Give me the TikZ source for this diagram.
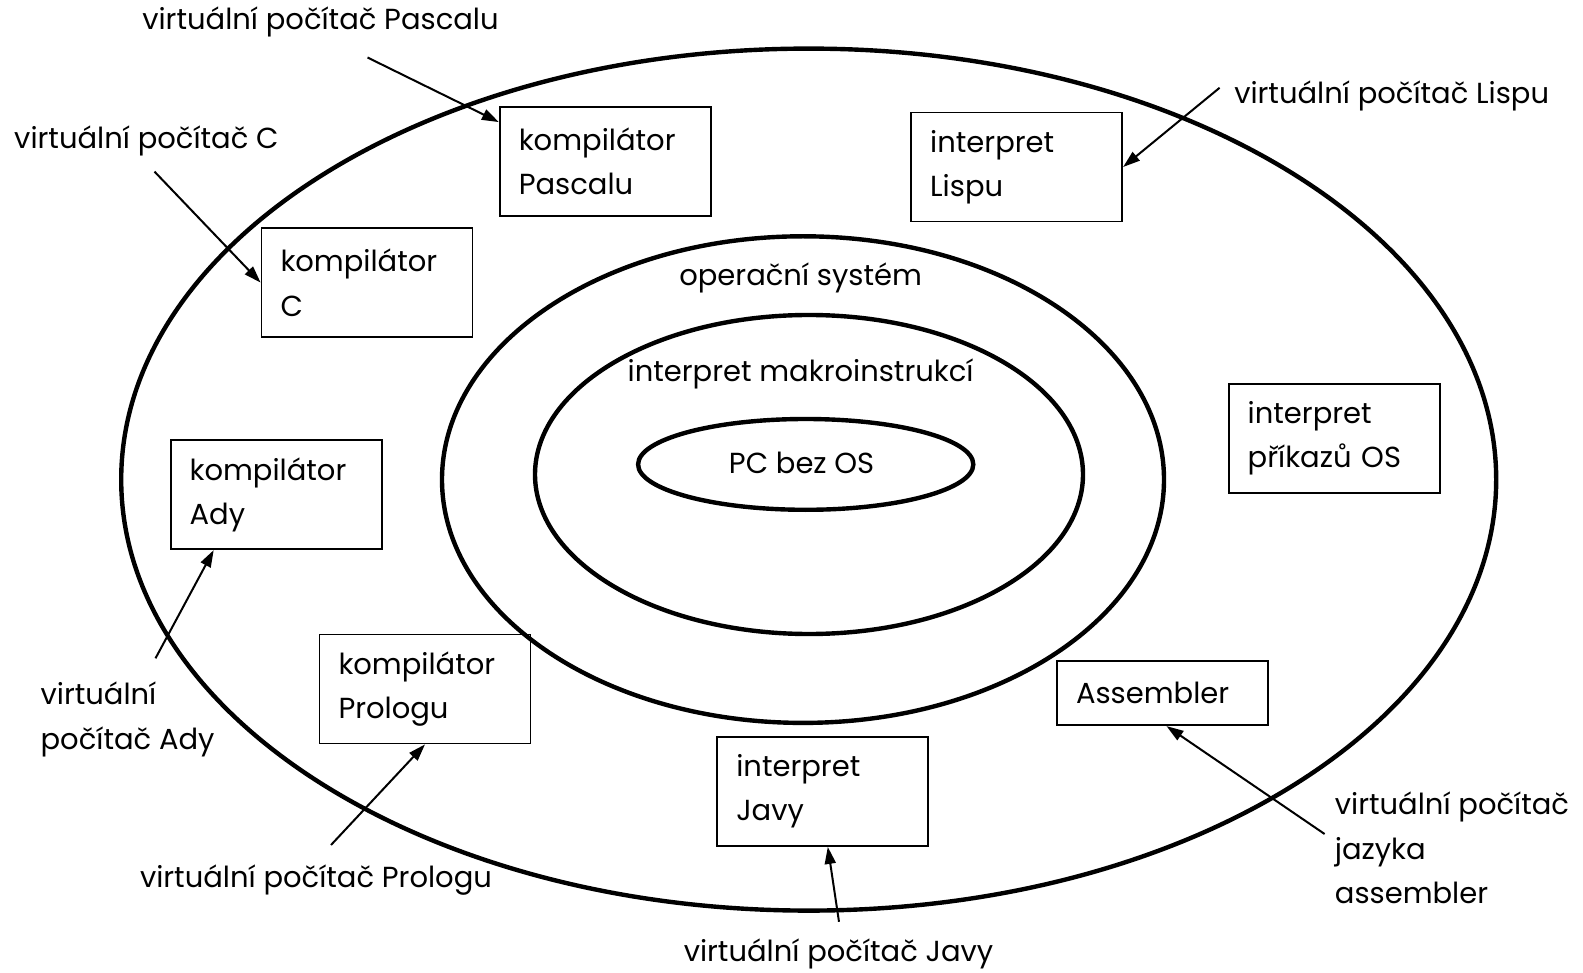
\documentclass[tikz,border=0pt]{standalone}
\usepackage{fontspec}
\setmainfont{Poppins}
\usetikzlibrary{arrows.meta,calc}
\newcommand\dgfont{\fontsize{29}{44.4}\selectfont}
\begin{document}
\begin{tikzpicture}[x=1pt,y=-1pt,
  ring/.style={draw, line width=4.4pt},
  box/.style={draw, line width=1.8pt, inner xsep=19pt, inner ysep=0pt,
    text width=173pt, minimum height=109pt, align=left, font=\dgfont},
  lbl/.style={font=\dgfont, align=left, inner sep=0pt},
  pointer/.style={line width=2pt, -{Triangle[length=17pt,width=11pt]}}]
\useasboundingbox (0,0) rectangle (1583,973);

% nested layers
\draw[ring] (808.7,479.6) ellipse [x radius=687.5, y radius=431];
\draw[ring] (803,479.6) ellipse [x radius=361, y radius=243.3];
\draw[ring] (809,474.5) ellipse [x radius=274, y radius=159.5];
\draw[ring] (805.7,464.4) ellipse [x radius=167.6, y radius=45.4];

\node[lbl] (os)   at (800.6,277.6) {operační systém};
\node[lbl] (makro) at (800.6,374) {interpret makroinstrukcí};
\node[lbl] (pc)   at (801.6,463.4) {PC bez OS};

% translators
\node[box] (pascal) at (605.3,161.5) {kompilátor\\Pascalu};
\node[box] (lisp)   at (1016.7,167)  {interpret\\Lispu};
\node[box] (compc)  at (367,282.6)   {kompilátor\\C};
\node[box] (ady)    at (276.1,494.7) {kompilátor\\Ady};
\node[box] (oscmd)  at (1334.2,438.2) {interpret\\příkazů OS};
\node[box] (prolog) at (425,689)     {kompilátor\\Prologu};
\node[box, minimum height=64pt] (asm) at (1162.5,693.2) {Assembler};
\node[box] (javy)   at (822.8,791.5) {interpret\\Javy};

% virtual machines
\node[lbl] (vpascal) at (320.5,22.2) {virtuální počítač Pascalu};
\node[lbl] (vc)      at (146.4,141.3) {virtuální počítač C};
\node[lbl] (vlisp)   at (1391.7,95.9) {virtuální počítač Lispu};
\node[lbl, anchor=west] (vady) at (40.4,719.3) {virtuální\\počítač Ady};
\node[lbl] (vprolog) at (316,880.4) {virtuální počítač Prologu};
\node[lbl] (vjavy)   at (838.5,954) {virtuální počítač Javy};
\node[lbl, anchor=west] (vasm) at (1334.7,847.8) {virtuální počítač\\jazyka\\assembler};

\coordinate (spascal) at (367.5,57.5);
\coordinate (sc)      at (154.5,171.6);
\coordinate (slisp)   at (1219.6,87.8);
\coordinate (sady)    at (155.5,658.3);
\coordinate (sprolog) at (331,845);
\coordinate (sjavy)   at (839,921.8);
\coordinate (sasm)    at (1324.6,834);

\draw[pointer] (spascal) -- ($(pascal.north west)+(0,16)$);
\draw[pointer] (sc) -- (compc.west);
\draw[pointer] (slisp) -- (lisp.east);
\draw[pointer] (sady) -- ($(ady.south west)+(44,0)$);
\draw[pointer] (sprolog) -- (prolog.south);
\draw[pointer] (sjavy) -- ($(javy.south)+(5,0)$);
\draw[pointer] (sasm) -- ($(asm.south)+(4,0)$);
\end{tikzpicture}
\end{document}
